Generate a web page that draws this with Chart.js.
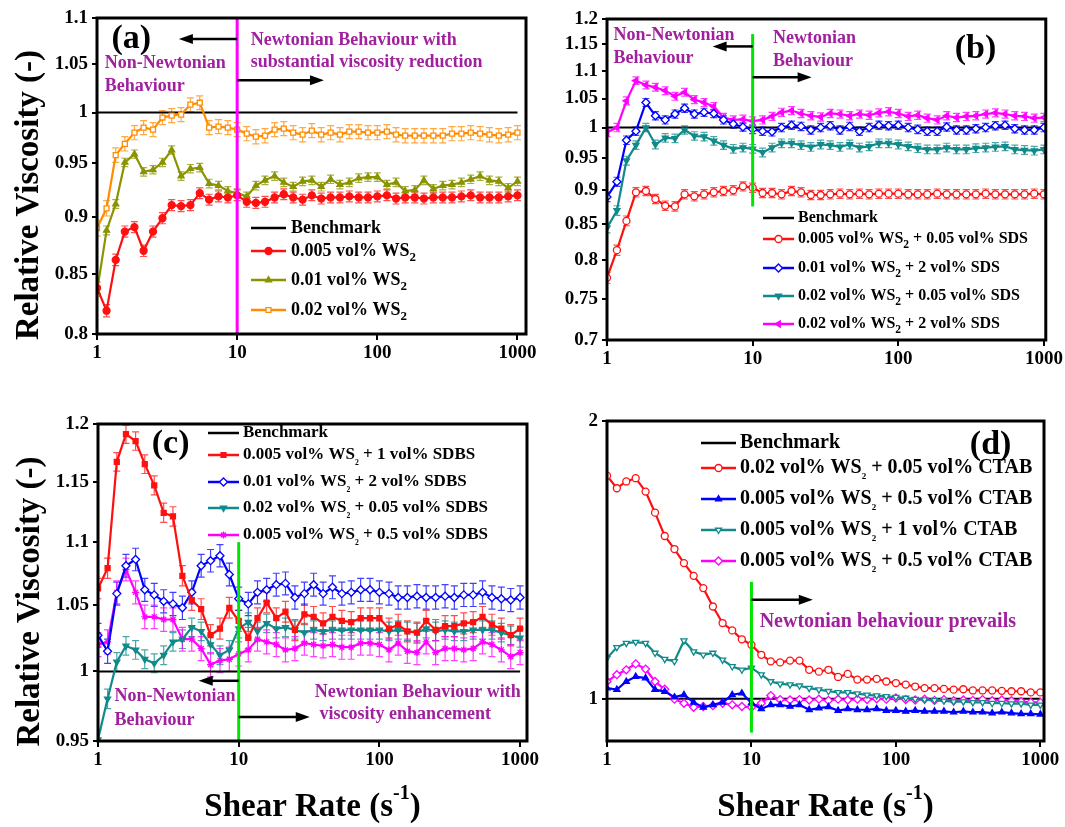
<!DOCTYPE html>
<html>
<head>
<meta charset="utf-8">
<script src="https://cdn.jsdelivr.net/npm/chart.js@4.4.1/dist/chart.umd.min.js"></script>
<style>
    html, body { margin: 0; padding: 0; background: #fff; }
    #wrap { position: relative; width: 1065px; height: 827px; overflow: hidden; }
    .panel { position: absolute; }
</style>
</head>
<body>
<div id="wrap">
    <div class="panel" style="left:0;top:0;width:560px;height:400px"><canvas id="chartA"></canvas></div>
    <div class="panel" style="left:532px;top:0;width:533px;height:400px"><canvas id="chartB"></canvas></div>
    <div class="panel" style="left:0;top:400px;width:560px;height:427px"><canvas id="chartC"></canvas></div>
    <div class="panel" style="left:532px;top:400px;width:533px;height:427px"><canvas id="chartD"></canvas></div>
</div>
<script>
const SERIF = "'Liberation Serif', 'Times New Roman', serif";
const PURPLE = '#a0209e';

// shear rates (s^-1), 15 points per decade
const shear = [1, 1.17, 1.36, 1.58, 1.85, 2.15, 2.51, 2.93, 3.41, 3.98, 4.64, 5.41, 6.31, 7.36, 8.58,
    10, 11.7, 13.6, 15.8, 18.5, 21.5, 25.1, 29.3, 34.1, 39.8, 46.4, 54.1, 63.1, 73.6, 85.8,
    100, 117, 136, 158, 185, 215, 251, 293, 341, 398, 464, 541, 631, 736, 858, 1000];

const xTicks = [1, 10, 100, 1000];
const ticksA = [0.8, 0.85, 0.9, 0.95, 1, 1.05, 1.1];
const ticksB = [0.7, 0.75, 0.8, 0.85, 0.9, 0.95, 1, 1.05, 1.1, 1.15, 1.2];
const ticksC = [0.95, 1, 1.05, 1.1, 1.15, 1.2];
const ticksD = [1, 2];

// (a) WS2 only
const labelsA = ['0.005 vol% WS_2', '0.01 vol% WS_2', '0.02 vol% WS_2'];
const errA = [0.005, 0.004, 0.007];
const ws005 = [0.838, 0.819, 0.862, 0.887, 0.891, 0.870, 0.887, 0.899, 0.911, 0.910, 0.911, 0.922, 0.916, 0.919, 0.918,
    0.920, 0.914, 0.913, 0.914, 0.918, 0.921, 0.918, 0.916, 0.920, 0.917, 0.918, 0.918, 0.919, 0.918, 0.918,
    0.919, 0.920, 0.917, 0.918, 0.918, 0.917, 0.918, 0.918, 0.918, 0.919, 0.920, 0.918, 0.918, 0.918, 0.919, 0.920];
const ws01 = [0.835, 0.888, 0.912, 0.951, 0.959, 0.942, 0.944, 0.951, 0.963, 0.938, 0.945, 0.946, 0.931, 0.929, 0.924,
    0.922, 0.919, 0.929, 0.934, 0.938, 0.932, 0.928, 0.933, 0.934, 0.928, 0.935, 0.930, 0.932, 0.936, 0.937,
    0.937, 0.930, 0.932, 0.924, 0.925, 0.934, 0.926, 0.929, 0.930, 0.932, 0.935, 0.938, 0.934, 0.933, 0.927, 0.933];
const ws02 = [0.890, 0.908, 0.958, 0.969, 0.980, 0.985, 0.983, 0.995, 0.997, 0.998, 1.008, 1.010, 0.985, 0.986, 0.985,
    0.983, 0.979, 0.976, 0.977, 0.983, 0.984, 0.980, 0.978, 0.982, 0.978, 0.980, 0.978, 0.981, 0.981, 0.980,
    0.980, 0.981, 0.978, 0.977, 0.977, 0.977, 0.977, 0.977, 0.979, 0.979, 0.980, 0.979, 0.978, 0.977, 0.978, 0.980];

// (b) WS2 + SDS
const labelsB = ['0.005 vol% WS_2 + 0.05 vol% SDS', '0.01 vol% WS_2 + 2 vol% SDS',
    '0.02 vol% WS_2 + 0.05 vol% SDS', '0.02 vol% WS_2 + 2 vol% SDS'];
const errB = [0.007, 0.007, 0.007, 0.007];
const sds1 = [0.777, 0.814, 0.855, 0.897, 0.899, 0.887, 0.877, 0.876, 0.894, 0.891, 0.894, 0.897, 0.899, 0.900, 0.906,
    0.904, 0.896, 0.896, 0.894, 0.899, 0.897, 0.893, 0.893, 0.894, 0.895, 0.894, 0.895, 0.894, 0.895, 0.895,
    0.895, 0.894, 0.894, 0.894, 0.895, 0.894, 0.894, 0.894, 0.894, 0.895, 0.894, 0.894, 0.894, 0.894, 0.895, 0.894];
const sds2 = [0.890, 0.913, 0.979, 0.994, 1.043, 1.020, 1.013, 1.023, 1.033, 1.023, 1.026, 1.024, 1.013, 1.006, 1.001,
    0.997, 0.994, 0.993, 1.000, 1.004, 1.002, 0.996, 1.000, 1.003, 0.996, 1.002, 0.994, 1.000, 1.004, 1.003,
    1.004, 1.000, 0.997, 0.994, 0.994, 1.001, 0.996, 0.996, 0.998, 1.000, 1.003, 1.004, 0.998, 0.996, 0.996, 1.000];
const sds3 = [0.845, 0.870, 0.946, 0.971, 1.000, 0.972, 0.983, 0.982, 0.996, 0.986, 0.985, 0.978, 0.971, 0.965, 0.967,
    0.965, 0.959, 0.967, 0.974, 0.974, 0.971, 0.968, 0.972, 0.971, 0.968, 0.972, 0.967, 0.969, 0.974, 0.974,
    0.972, 0.969, 0.966, 0.964, 0.964, 0.967, 0.964, 0.964, 0.966, 0.967, 0.968, 0.969, 0.964, 0.963, 0.962, 0.964];
const sds4 = [0.992, 1.000, 1.046, 1.082, 1.074, 1.070, 1.064, 1.054, 1.061, 1.048, 1.043, 1.036, 1.017, 1.013, 1.014,
    1.011, 1.013, 1.019, 1.026, 1.029, 1.024, 1.020, 1.018, 1.024, 1.023, 1.020, 1.023, 1.021, 1.025, 1.027,
    1.024, 1.019, 1.021, 1.016, 1.013, 1.020, 1.017, 1.019, 1.020, 1.023, 1.025, 1.023, 1.020, 1.019, 1.016, 1.017];

// (c) WS2 + SDBS
const labelsC = ['0.005 vol% WS_2 + 1 vol% SDBS', '0.01 vol% WS_2 + 2 vol% SDBS',
    '0.02 vol% WS_2 + 0.05 vol% SDBS', '0.005 vol% WS_2 + 0.5 vol% SDBS'];
const errC = [0.008, 0.009, 0.007, 0.009];
const sdbs1 = [1.063, 1.079, 1.167, 1.191, 1.185, 1.165, 1.147, 1.124, 1.121, 1.073, 1.054, 1.047, 1.027, 1.032, 1.048,
    1.038, 1.025, 1.040, 1.052, 1.040, 1.045, 1.031, 1.043, 1.041, 1.036, 1.041, 1.038, 1.037, 1.040, 1.040,
    1.040, 1.032, 1.035, 1.030, 1.029, 1.038, 1.031, 1.034, 1.034, 1.036, 1.037, 1.041, 1.035, 1.032, 1.027, 1.032];
const sdbs2 = [1.027, 1.015, 1.059, 1.081, 1.086, 1.062, 1.058, 1.053, 1.051, 1.048, 1.060, 1.081, 1.085, 1.089, 1.074,
    1.055, 1.051, 1.060, 1.062, 1.066, 1.067, 1.056, 1.059, 1.066, 1.059, 1.064, 1.059, 1.060, 1.062, 1.062,
    1.060, 1.059, 1.056, 1.056, 1.057, 1.056, 1.056, 1.057, 1.056, 1.058, 1.058, 1.060, 1.056, 1.055, 1.054, 1.056];
const sdbs3 = [0.951, 0.980, 1.007, 1.019, 1.016, 1.009, 1.006, 1.012, 1.022, 1.024, 1.033, 1.030, 1.020, 1.012, 1.016,
    1.032, 1.037, 1.030, 1.036, 1.032, 1.033, 1.031, 1.029, 1.031, 1.030, 1.031, 1.031, 1.031, 1.031, 1.031,
    1.031, 1.030, 1.031, 1.030, 1.029, 1.032, 1.030, 1.031, 1.030, 1.030, 1.031, 1.031, 1.031, 1.029, 1.027, 1.025];
const sdbs4 = [1.020, 1.022, 1.060, 1.078, 1.060, 1.041, 1.041, 1.039, 1.039, 1.024, 1.024, 1.017, 1.005, 1.008, 1.009,
    1.013, 1.016, 1.024, 1.022, 1.020, 1.016, 1.017, 1.021, 1.020, 1.019, 1.020, 1.018, 1.018, 1.021, 1.021,
    1.020, 1.016, 1.021, 1.015, 1.014, 1.022, 1.014, 1.017, 1.017, 1.016, 1.017, 1.022, 1.020, 1.016, 1.011, 1.014];

// (d) WS2 + CTAB
const labelsD = ['0.02 vol% WS_2 + 0.05 vol% CTAB', '0.005 vol% WS_2 + 0.5 vol% CTAB',
    '0.005 vol% WS_2 + 1 vol% CTAB', '0.005 vol% WS_2 + 0.5 vol% CTAB'];
const ctab1 = [1.745, 1.691, 1.720, 1.734, 1.677, 1.591, 1.501, 1.453, 1.403, 1.359, 1.318, 1.259, 1.208, 1.186, 1.160,
    1.144, 1.116, 1.098, 1.095, 1.100, 1.100, 1.075, 1.070, 1.075, 1.056, 1.064, 1.049, 1.049, 1.051, 1.044,
    1.040, 1.036, 1.031, 1.027, 1.027, 1.025, 1.023, 1.024, 1.021, 1.021, 1.021, 1.020, 1.019, 1.019, 1.016, 1.016];
const ctab2 = [1.027, 1.023, 1.044, 1.057, 1.053, 1.023, 1.018, 1.004, 1.010, 0.991, 0.979, 0.985, 0.991, 1.010, 1.014,
    0.990, 0.975, 0.985, 0.985, 0.981, 0.985, 0.973, 0.977, 0.980, 0.971, 0.975, 0.973, 0.973, 0.975, 0.971,
    0.971, 0.969, 0.971, 0.969, 0.969, 0.969, 0.967, 0.969, 0.967, 0.967, 0.965, 0.967, 0.965, 0.963, 0.963, 0.962];
const ctab3 = [1.107, 1.137, 1.149, 1.152, 1.149, 1.121, 1.104, 1.098, 1.156, 1.125, 1.116, 1.121, 1.102, 1.084, 1.075,
    1.080, 1.062, 1.044, 1.038, 1.036, 1.033, 1.027, 1.023, 1.019, 1.016, 1.016, 1.013, 1.010, 1.008, 1.006,
    1.004, 1.002, 0.999, 0.998, 0.996, 0.995, 0.993, 0.993, 0.991, 0.991, 0.989, 0.989, 0.988, 0.988, 0.985, 0.985];
const ctab4 = [1.044, 1.062, 1.075, 1.091, 1.077, 1.044, 1.024, 0.999, 0.989, 0.979, 0.981, 0.983, 0.989, 0.985, 0.981,
    0.979, 0.989, 1.008, 0.998, 0.997, 0.998, 0.997, 0.999, 0.996, 0.999, 0.997, 0.999, 0.998, 1.000, 0.999,
    1.002, 0.998, 0.997, 0.999, 0.996, 0.998, 0.995, 0.997, 0.996, 0.998, 0.995, 0.997, 0.995, 0.993, 0.991, 0.991];

const RED = '#ff1010', OLIVE = '#8a9400', ORANGE = '#ff8c00', BLUE = '#0000ff', TEAL = '#108a8a', MAG = '#ff00ff', GREEN = '#00e600';

const pts = vals => vals.map((v, i) => ({ x: shear[i], y: v }));

const benchmark = () => ({
    label: 'Benchmark', data: [{ x: 1, y: 1 }, { x: 1000, y: 1 }],
    borderColor: '#000', borderWidth: 2, pointRadius: 0, order: 10
});

function series(label, vals, color, style, open, err, rot = 0) {
    return {
        label, data: pts(vals), err,
        borderColor: color, backgroundColor: open ? '#fff' : color,
        borderWidth: 2.2, tension: 0,
        pointStyle: style, pointRotation: rot, pointRadius: style === 'rectRot' ? 4 : 3.5,
        pointBorderWidth: 1.3, pointBackgroundColor: open ? '#fff' : color, pointBorderColor: color
    };
}

// text with "_2" style subscripts
function richText(ctx, text, x, y, size, subScale, subDrop) {
    const parts = text.split(/_(\d)/);
    let cx = x;
    parts.forEach((p, k) => {
        const sub = k % 2 === 1;
        ctx.font = `bold ${sub ? size * subScale : size}px ${SERIF}`;
        ctx.fillText(p, cx, sub ? y + size * subDrop : y);
        cx += ctx.measureText(p).width;
    });
}

function arrow(ctx, x1, x2, y) {
    const dir = Math.sign(x2 - x1);
    ctx.save();
    ctx.strokeStyle = '#000'; ctx.fillStyle = '#000'; ctx.lineWidth = 2.5;
    ctx.beginPath(); ctx.moveTo(x1, y); ctx.lineTo(x2 - dir * 10, y); ctx.stroke();
    ctx.beginPath(); ctx.moveTo(x2, y); ctx.lineTo(x2 - dir * 14, y - 5); ctx.lineTo(x2 - dir * 14, y + 5);
    ctx.closePath(); ctx.fill();
    ctx.restore();
}

const errorBars = {
    id: 'errorBars',
    beforeDatasetsDraw(chart) {
        const { ctx, chartArea, scales: { y } } = chart;
        ctx.save();
        ctx.beginPath(); ctx.rect(chartArea.left, chartArea.top, chartArea.width, chartArea.height); ctx.clip();
        chart.data.datasets.forEach((ds, i) => {
            if (!ds.err) return;
            ctx.strokeStyle = ds.borderColor; ctx.lineWidth = 1.2; ctx.globalAlpha = 0.75;
            chart.getDatasetMeta(i).data.forEach((pt, j) => {
                const v = ds.data[j].y;
                const top = y.getPixelForValue(v + ds.err), bot = y.getPixelForValue(v - ds.err);
                ctx.beginPath();
                ctx.moveTo(pt.x, top); ctx.lineTo(pt.x, bot);
                ctx.moveTo(pt.x - 3.5, top); ctx.lineTo(pt.x + 3.5, top);
                ctx.moveTo(pt.x - 3.5, bot); ctx.lineTo(pt.x + 3.5, bot);
                ctx.stroke();
            });
        });
        ctx.restore();
    }
};

// frame, annotations, legend, titles
function decor(cfg) {
    return {
        id: 'decor',
        afterDatasetsDraw(chart) {
            const { ctx, chartArea: ca, scales: { x, y } } = chart;
            const px = v => x.getPixelForValue(v), py = v => y.getPixelForValue(v);
            ctx.save();
            cfg.items.forEach(it => {
                if (it.t === 'vline') {
                    ctx.strokeStyle = it.color; ctx.lineWidth = 3;
                    ctx.beginPath();
                    ctx.moveTo(px(it.x), it.y2 ? py(it.y2) : ca.top);
                    ctx.lineTo(px(it.x), it.y1 ? py(it.y1) : ca.bottom);
                    ctx.stroke();
                } else if (it.t === 'arrow') {
                    arrow(ctx, px(it.x1), px(it.x2), py(it.y));
                } else {
                    ctx.fillStyle = PURPLE; ctx.textAlign = 'left'; ctx.textBaseline = 'middle';
                    ctx.font = `bold ${cfg.noteSize}px ${SERIF}`;
                    ctx.fillText(it.s, px(it.x), py(it.y));
                }
            });

            // panel tag
            ctx.fillStyle = '#000'; ctx.textAlign = 'left'; ctx.textBaseline = 'middle';
            ctx.font = `bold 34px ${SERIF}`;
            ctx.fillText(cfg.tag.s, px(cfg.tag.x), py(cfg.tag.y));

            // legend
            const lg = cfg.legend;
            chart.data.datasets.forEach((ds, i) => {
                const ly = ca.top + lg.rows[i];
                const x1 = ca.left + lg.x1, x2 = ca.left + lg.x2;
                ctx.strokeStyle = ds.borderColor; ctx.lineWidth = 2.5;
                ctx.beginPath(); ctx.moveTo(x1, ly); ctx.lineTo(x2, ly); ctx.stroke();
                if (ds.pointRadius) {
                    ctx.fillStyle = ds.pointBackgroundColor; ctx.strokeStyle = ds.borderColor; ctx.lineWidth = 1.3;
                    Chart.helpers.drawPoint(ctx, {
                        pointStyle: ds.pointStyle, rotation: ds.pointRotation,
                        radius: ds.pointRadius, borderWidth: 1.3
                    }, (x1 + x2) / 2, ly);
                }
                ctx.fillStyle = '#000'; ctx.textAlign = 'left'; ctx.textBaseline = 'middle';
                richText(ctx, ds.label, ca.left + lg.tx, ly, lg.size, lg.sub, lg.drop);
            });

            // frame
            ctx.strokeStyle = '#000'; ctx.lineWidth = 3;
            ctx.strokeRect(ca.left, ca.top, ca.width, ca.height);

            // axis titles
            ctx.fillStyle = '#000';
            if (cfg.yTitle) {
                ctx.save();
                ctx.translate(ca.left - 68, (ca.top + ca.bottom) / 2 + 19);
                ctx.rotate(-Math.PI / 2);
                ctx.textAlign = 'center'; ctx.textBaseline = 'middle';
                ctx.font = `bold 33px ${SERIF}`;
                ctx.fillText('Relative Viscosity (-)', 0, 0);
                ctx.restore();
            }
            if (cfg.xTitle) {
                const big = `bold 33px ${SERIF}`, small = `bold 20px ${SERIF}`;
                ctx.textAlign = 'left'; ctx.textBaseline = 'middle';
                ctx.font = big; const w1 = ctx.measureText('Shear Rate (s').width, w3 = ctx.measureText(')').width;
                ctx.font = small; const w2 = ctx.measureText('-1').width;
                let tx = (ca.left + ca.right) / 2 - (w1 + w2 + w3) / 2;
                const ty = ca.bottom + 66;
                ctx.font = big; ctx.fillText('Shear Rate (s', tx, ty); tx += w1;
                ctx.font = small; ctx.fillText('-1', tx, ty - 13); tx += w2;
                ctx.font = big; ctx.fillText(')', tx, ty);
            }
            ctx.restore();
        }
    };
}

function makeChart(id, datasets, geo, yMin, yMax, yTicks, xMax, cfg) {
    const tickFont = { family: SERIF, size: 19, weight: 'bold' };
    return new Chart(document.getElementById(id).getContext('2d'), {
        type: 'line',
        data: { datasets },
        options: {
            animation: false, responsive: true, maintainAspectRatio: false,
            layout: { padding: { left: 0, top: geo.top, right: geo.right, bottom: 0 } },
            plugins: { legend: { display: false }, tooltip: { enabled: false } },
            scales: {
                x: {
                    type: 'logarithmic', min: 1, max: xMax,
                    afterBuildTicks: s => { s.ticks = xTicks.map(v => ({ value: v })); },
                    afterFit: s => { s.height = geo.xh; },
                    ticks: { color: '#000', font: tickFont, padding: 2, autoSkip: false, maxRotation: 0, callback: v => String(v) },
                    grid: { drawOnChartArea: false, color: '#000', lineWidth: 2, tickLength: 6 },
                    border: { display: false }
                },
                y: {
                    type: 'logarithmic', min: yMin, max: yMax,
                    afterBuildTicks: s => { s.ticks = yTicks.map(v => ({ value: v })); },
                    afterFit: s => { s.width = geo.yw; },
                    ticks: { color: '#000', font: tickFont, padding: 4, autoSkip: false, callback: v => String(v) },
                    grid: { drawOnChartArea: false, color: '#000', lineWidth: 2, tickLength: 5 },
                    border: { display: false }
                }
            }
        },
        plugins: [errorBars, decor(cfg)]
    });
}

makeChart('chartA', [
    benchmark(),
    series(labelsA[0], ws005, RED, 'circle', false, errA[0]),
    series(labelsA[1], ws01, OLIVE, 'triangle', false, errA[1]),
    series(labelsA[2], ws02, ORANGE, 'rect', true, errA[2])
], { top: 18, right: 34, xh: 66, yw: 97 }, 0.8, 1.1, ticksA, 1150, {
    noteSize: 18, yTitle: true, xTitle: false,
    tag: { s: '(a)', x: 1.27, y: 1.077 },
    legend: { x1: 154, x2: 189, tx: 194, rows: [210, 233, 262, 292], size: 18, sub: 0.72, drop: 0.35 },
    items: [
        { t: 'vline', x: 10, color: MAG },
        { t: 'arrow', x1: 10, x2: 3.84, y: 1.077 },
        { t: 'arrow', x1: 10, x2: 41.6, y: 1.033 },
        { t: 'text', x: 1.137, y: 1.051, s: 'Non-Newtonian' },
        { t: 'text', x: 1.137, y: 1.027, s: 'Behaviour' },
        { t: 'text', x: 12.5, y: 1.075, s: 'Newtonian Behaviour with' },
        { t: 'text', x: 12.5, y: 1.052, s: 'substantial viscosity reduction' }
    ]
});

makeChart('chartB', [
    benchmark(),
    series(labelsB[0], sds1, RED, 'circle', true, errB[0]),
    series(labelsB[1], sds2, BLUE, 'rectRot', true, errB[1]),
    series(labelsB[2], sds3, TEAL, 'triangle', false, errB[2], 180),
    series(labelsB[3], sds4, MAG, 'triangle', false, errB[3], 270)
], { top: 19, right: 19, xh: 60, yw: 75 }, 0.7, 1.2, ticksB, 1030, {
    noteSize: 18, yTitle: false, xTitle: false,
    tag: { s: '(b)', x: 244, y: 1.14 },
    legend: { x1: 156, x2: 187, tx: 191, rows: [199, 220, 249, 277, 305], size: 16, sub: 0.72, drop: 0.35 },
    items: [
        { t: 'vline', x: 10, y1: 0.876, y2: 1.17, color: GREEN },
        { t: 'arrow', x1: 10, x2: 5.31, y: 1.146 },
        { t: 'arrow', x1: 10, x2: 25.4, y: 1.088 },
        { t: 'text', x: 1.11, y: 1.168, s: 'Non-Newtonian' },
        { t: 'text', x: 1.11, y: 1.124, s: 'Behaviour' },
        { t: 'text', x: 13.8, y: 1.162, s: 'Newtonian' },
        { t: 'text', x: 13.8, y: 1.118, s: 'Behaviour' }
    ]
});

makeChart('chartC', [
    benchmark(),
    series(labelsC[0], sdbs1, RED, 'rect', false, errC[0]),
    series(labelsC[1], sdbs2, BLUE, 'rectRot', true, errC[1]),
    series(labelsC[2], sdbs3, TEAL, 'triangle', false, errC[2], 180),
    series(labelsC[3], sdbs4, MAG, 'star', false, errC[3])
], { top: 24, right: 33, xh: 86, yw: 98 }, 0.95, 1.2, ticksC, 1120, {
    noteSize: 18, yTitle: true, xTitle: true,
    tag: { s: '(c)', x: 2.41, y: 1.182 },
    legend: { x1: 110, x2: 141, tx: 145, rows: [9, 31, 58, 84, 111], size: 17, sub: 0.45, drop: 0.45 },
    items: [
        { t: 'vline', x: 10, y2: 1.1, color: GREEN },
        { t: 'arrow', x1: 10, x2: 5.2, y: 0.9931 },
        { t: 'arrow', x1: 10, x2: 32, y: 0.967 },
        { t: 'text', x: 1.31, y: 0.9815, s: 'Non-Newtonian' },
        { t: 'text', x: 1.31, y: 0.9649, s: 'Behaviour' },
        { t: 'text', x: 34.7, y: 0.9844, s: 'Newtonian Behaviour with' },
        { t: 'text', x: 37.6, y: 0.9685, s: 'viscosity enhancement' }
    ]
});

makeChart('chartD', [
    benchmark(),
    series(labelsD[0], ctab1, RED, 'circle', true, 0),
    series(labelsD[1], ctab2, BLUE, 'triangle', false, 0),
    series(labelsD[2], ctab3, TEAL, 'triangle', true, 0, 180),
    series(labelsD[3], ctab4, MAG, 'rectRot', true, 0)
], { top: 21, right: 21, xh: 86, yw: 75 }, 0.9, 2, ticksD, 1060, {
    noteSize: 20, yTitle: false, xTitle: true,
    tag: { s: '(d)', x: 325, y: 1.884 },
    legend: { x1: 94, x2: 129, tx: 133, rows: [22, 47, 78, 109, 140], size: 20, sub: 0.45, drop: 0.45 },
    items: [
        { t: 'vline', x: 10, y1: 0.919, y2: 1.339, color: GREEN },
        { t: 'arrow', x1: 10, x2: 26.6, y: 1.28 },
        { t: 'text', x: 11.4, y: 1.212, s: 'Newtonian behaviour prevails' }
    ]
});
</script>
</body>
</html>
